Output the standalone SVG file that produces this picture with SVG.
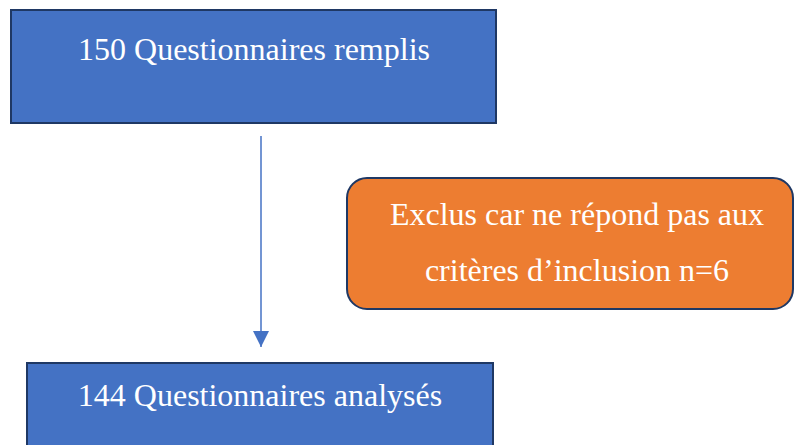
<svg xmlns="http://www.w3.org/2000/svg" width="795" height="445" viewBox="0 0 795 445">
<defs>
<style>
.box{fill:#4472C4;stroke:#1F3864;stroke-width:2}
.excl{fill:#ED7D31;stroke:#1F3864;stroke-width:2}
.t{font-family:"Liberation Serif","Times New Roman",serif;font-size:32px;fill:#FFFFFF;text-anchor:middle}
.conn{stroke:#4472C4;stroke-width:1.5;fill:none}
</style>
<marker id="arr" markerWidth="16" markerHeight="16" viewBox="0 0 16 16" refX="16" refY="8" orient="auto" markerUnits="userSpaceOnUse">
<path d="M0,0 L16,8 L0,16 Z" fill="#4472C4"/>
</marker>
</defs>
<g id="connectors">
<line class="conn" x1="261" y1="136" x2="261" y2="347" marker-end="url(#arr)"/>
</g>
<g id="node-remplis">
<rect class="box" x="11" y="10" width="485" height="113"/>
<text class="t" x="254" y="60">150 Questionnaires remplis</text>
</g>
<g id="node-exclus">
<rect class="excl" x="347" y="178" width="446" height="131" rx="20" ry="20"/>
<text class="t" x="577" y="225">Exclus car ne répond pas aux</text>
<text class="t" x="577" y="281">critères d’inclusion n=6</text>
</g>
<g id="node-analyses">
<rect class="box" x="27" y="363" width="466" height="100"/>
<text class="t" x="260" y="406">144 Questionnaires analysés</text>
</g>
</svg>
